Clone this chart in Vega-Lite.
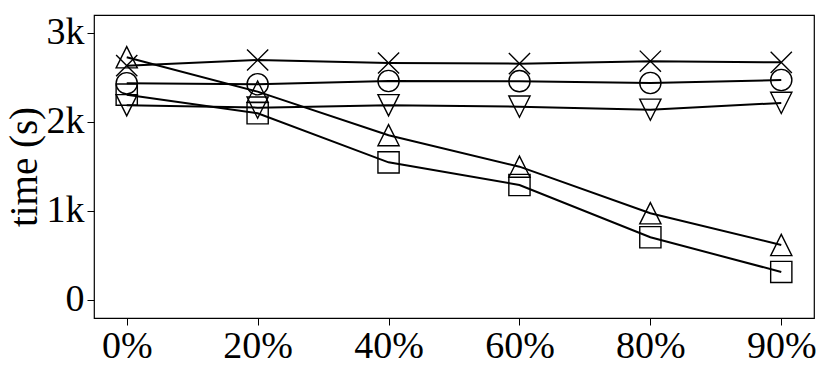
{
  "$schema": "https://vega.github.io/schema/vega-lite/v6.json",
  "autosize": {"type": "none"},
  "width": 720,
  "height": 303,
  "padding": {"left": 94, "top": 15, "right": 16, "bottom": 53},
  "background": "white",
  "config": {
    "view": {"stroke": "black", "strokeWidth": 1.2},
    "font": "Liberation Serif",
    "axis": {
      "grid": false,
      "domain": false,
      "tickColor": "black",
      "tickSize": 7,
      "tickWidth": 1,
      "labelFont": "Liberation Serif",
      "labelFontSize": 38,
      "labelColor": "black",
      "titleFont": "Liberation Serif",
      "titleFontSize": 39,
      "titleFontWeight": "normal",
      "titleColor": "black"
    }
  },
  "data": {
    "values": [
      {"x": "0%", "series": "cross", "t": 2632},
      {"x": "20%", "series": "cross", "t": 2696},
      {"x": "40%", "series": "cross", "t": 2662},
      {"x": "60%", "series": "cross", "t": 2655},
      {"x": "80%", "series": "cross", "t": 2682},
      {"x": "90%", "series": "cross", "t": 2670},
      {"x": "0%", "series": "circle", "t": 2434},
      {"x": "20%", "series": "circle", "t": 2423},
      {"x": "40%", "series": "circle", "t": 2460},
      {"x": "60%", "series": "circle", "t": 2458},
      {"x": "80%", "series": "circle", "t": 2437},
      {"x": "90%", "series": "circle", "t": 2471},
      {"x": "0%", "series": "tridown", "t": 2187},
      {"x": "20%", "series": "tridown", "t": 2160},
      {"x": "40%", "series": "tridown", "t": 2187},
      {"x": "60%", "series": "tridown", "t": 2171},
      {"x": "80%", "series": "tridown", "t": 2137},
      {"x": "90%", "series": "tridown", "t": 2213},
      {"x": "0%", "series": "triup", "t": 2727},
      {"x": "20%", "series": "triup", "t": 2340},
      {"x": "40%", "series": "triup", "t": 1850},
      {"x": "60%", "series": "triup", "t": 1496},
      {"x": "80%", "series": "triup", "t": 972},
      {"x": "90%", "series": "triup", "t": 615},
      {"x": "0%", "series": "square", "t": 2306},
      {"x": "20%", "series": "square", "t": 2097},
      {"x": "40%", "series": "square", "t": 1545},
      {"x": "60%", "series": "square", "t": 1290},
      {"x": "80%", "series": "square", "t": 702},
      {"x": "90%", "series": "square", "t": 312}
    ]
  },
  "encoding": {
    "x": {
      "field": "x",
      "type": "ordinal",
      "sort": ["0%", "20%", "40%", "60%", "80%", "90%"],
      "scale": {"type": "point", "padding": 0.25},
      "axis": {"title": null, "labelAngle": 0, "labelPadding": 2}
    },
    "y": {
      "field": "t",
      "type": "quantitative",
      "scale": {"domain": [-206, 3202], "nice": false, "zero": false},
      "axis": {
        "title": "time (s)",
        "values": [0, 1000, 2000, 3000],
        "labelExpr": "datum.value == 0 ? '0' : (datum.value / 1000) + 'k'",
        "labelPadding": 3,
        "titlePadding": 2
      }
    }
  },
  "layer": [
    {
      "mark": {"type": "line", "color": "black", "strokeWidth": 2},
      "encoding": {"detail": {"field": "series"}}
    },
    {
      "mark": {"type": "point", "filled": false, "color": "black", "strokeWidth": 1.4, "size": 450, "opacity": 1},
      "encoding": {
        "shape": {
          "field": "series",
          "type": "nominal",
          "scale": {
            "domain": ["cross", "circle", "tridown", "triup", "square"],
            "range": ["M-1,-1L1,1M-1,1L1,-1", "circle", "M0,1L-1,-1L1,-1Z", "M0,-1L-1,1L1,1Z", "square"]
          },
          "legend": null
        }
      }
    }
  ]
}
